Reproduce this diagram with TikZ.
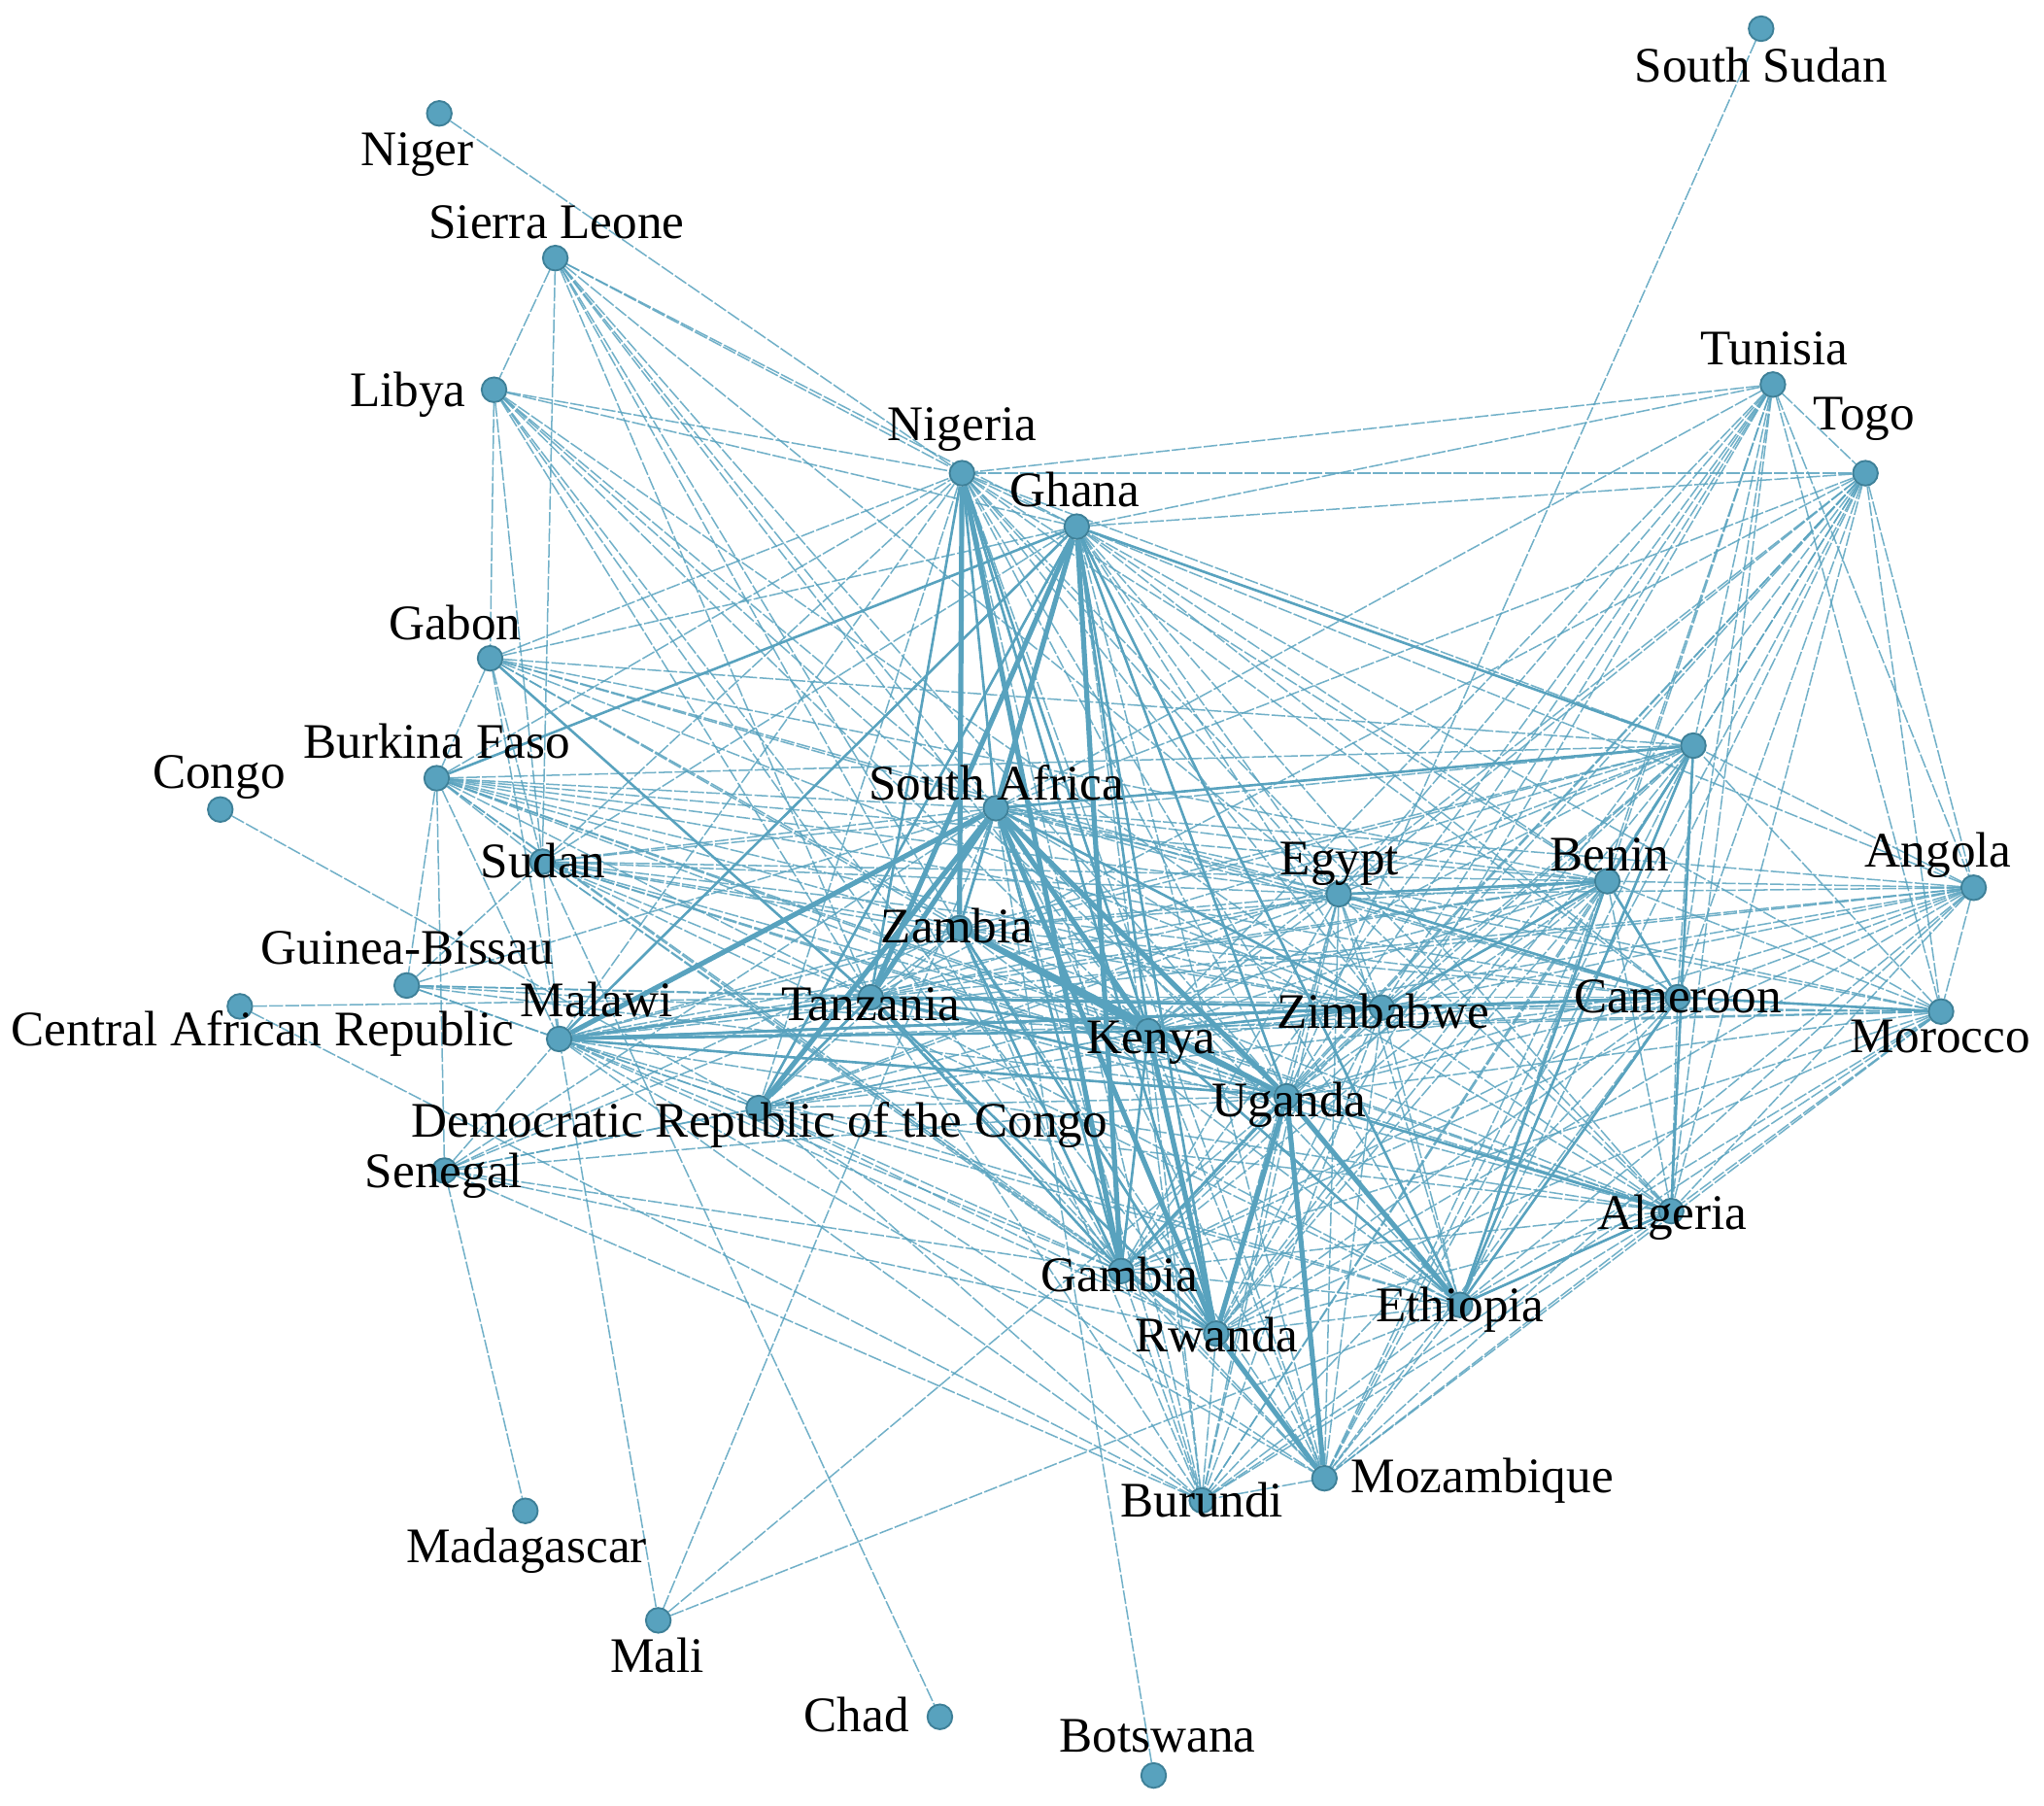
\documentclass[tikz,border=0pt]{standalone}
\usepackage{fontspec}
\setmainfont{Liberation Serif}
\pgfdeclarelayer{bg}
\pgfsetlayers{bg,main}
\definecolor{edgec}{RGB}{88,162,190}
\definecolor{nodef}{RGB}{88,162,190}
\definecolor{noded}{RGB}{62,128,152}
\tikzset{
 dot/.style={circle, fill=nodef, draw=noded, line width=0.4pt, inner sep=0pt, minimum size=0.19cm},
 lab/.style={font=\fontsize{10.85}{13}\selectfont, inner sep=0pt, text=black},
 ethin/.style={draw=edgec, line width=0.32pt, opacity=0.85, dash pattern=on 3pt off 0.5pt},
 emed/.style={draw=edgec, line width=0.55pt},
 ethick/.style={draw=edgec, line width=1.1pt},
}
\begin{document}
\begin{tikzpicture}[x=0.01cm, y=-0.01cm]
\useasboundingbox (0,0) rectangle (1568,1385);
% nodes
\node[dot] (SS) at (1351,22) {};
\node[dot] (NE) at (337,87) {};
\node[dot] (SL) at (426,198) {};
\node[dot] (LY) at (379,299) {};
\node[dot] (NG) at (738,363) {};
\node[dot] (GH) at (826,404) {};
\node[dot] (TN) at (1360,295) {};
\node[dot] (TG) at (1431,363) {};
\node[dot] (GA) at (376,505) {};
\node[dot] (BF) at (335,597) {};
\node[dot] (CG) at (169,621) {};
\node[dot] (UN) at (1299,572) {};
\node[dot] (ZA) at (764,620) {};
\node[dot] (SD) at (416,661) {};
\node[dot] (EG) at (1027,686) {};
\node[dot] (BJ) at (1233,676) {};
\node[dot] (AO) at (1514,681) {};
\node[dot] (GW) at (312,756) {};
\node[dot] (ZM) at (736,712) {};
\node[dot] (CF) at (184,772) {};
\node[dot] (MW) at (429,797) {};
\node[dot] (TZ) at (668,765) {};
\node[dot] (KE) at (881,791) {};
\node[dot] (ZW) at (1060,773) {};
\node[dot] (CM) at (1287,765) {};
\node[dot] (MA) at (1489,776) {};
\node[dot] (UG) at (987,841) {};
\node[dot] (CD) at (582,850) {};
\node[dot] (SN) at (341,898) {};
\node[dot] (DZ) at (1282,929) {};
\node[dot] (GM) at (860,975) {};
\node[dot] (ET) at (1120,1001) {};
\node[dot] (RW) at (933,1023) {};
\node[dot] (BI) at (922,1151) {};
\node[dot] (MZ) at (1016,1134) {};
\node[dot] (MG) at (403,1159) {};
\node[dot] (ML) at (505,1243) {};
\node[dot] (TD) at (721,1317) {};
\node[dot] (BW) at (885,1362) {};
% edges
\begin{pgfonlayer}{bg}
\def\core{NG,GH,ZA,ZM,TZ,KE,ZW,UG,EG,BJ,CM,DZ,ET,GM,RW,MW,CD,UN,MZ,BI}
\foreach \a [count=\i] in \core {
  \foreach \b [count=\j] in \core {
    \ifnum\j>\i \draw[ethin] (\a) -- (\b); \fi
  }
}
\foreach \a/\b in {SS/UG, NE/NG,
 SL/LY, SL/NG, SL/GH, SL/SD, SL/ZA, SL/ZM, SL/TZ, SL/KE, SL/UG, SL/GM, SL/EG,
 LY/NG, LY/GH, LY/SD, LY/GA, LY/ZA, LY/TZ, LY/KE, LY/UG, LY/GM, LY/ZW, LY/RW,
 GA/NG, GA/GH, GA/BF, GA/SD, GA/ZM, GA/EG, GA/BJ, GA/UN, GA/KE, GA/CM, GA/ZW, GA/MW,
 BF/NG, BF/ZA, BF/SD, BF/GW, BF/SN, BF/MW, BF/EG, BF/BJ, BF/CM, BF/ZM, BF/TZ, BF/KE, BF/UG, BF/ZW, BF/UN, BF/GM, BF/DZ, BF/RW,
 CG/CD,
 SD/GW, SD/MW, SD/ZA, SD/ZM, SD/TZ, SD/KE, SD/UG, SD/ZW, SD/EG, SD/BJ, SD/CM, SD/ET, SD/DZ, SD/GM, SD/RW, SD/TD, SD/NG, SD/GH, SD/UN,
 GW/MW, GW/ZA, GW/TZ, GW/KE, GW/UG, GW/CD, GW/ZW,
 CF/TZ, CF/BI,
 SN/MG, SN/RW, SN/BI, SN/MW, SN/CD, SN/TZ, SN/KE, SN/UG, SN/ZM, SN/ZA, SN/GM,
 ML/MW, ML/ZA, ML/UG, ML/ET, BW/ZA,
 TN/NG, TN/GH, TN/TG, TN/ZA, TN/UN, TN/EG, TN/BJ, TN/CM, TN/ZW, TN/KE, TN/UG, TN/DZ, TN/ET, TN/AO, TN/MA, TN/RW, TN/GM,
 TG/NG, TG/GH, TG/ZA, TG/UN, TG/EG, TG/BJ, TG/CM, TG/ZW, TG/KE, TG/UG, TG/DZ, TG/ET, TG/AO, TG/MA, TG/GM, TG/RW, TG/MZ, TG/TZ,
 AO/UN, AO/BJ, AO/CM, AO/MA, AO/DZ, AO/EG, AO/ZW, AO/KE, AO/UG, AO/ET, AO/ZA, AO/TZ, AO/MW, AO/GH, AO/RW, AO/GM, AO/MZ,
 MA/UN, MA/BJ, MA/CM, MA/DZ, MA/EG, MA/ZW, MA/KE, MA/UG, MA/ET, MA/ZA, MA/TZ, MA/MW, MA/GH, MA/RW, MA/GM, MA/MZ, MA/BI}
 \draw[ethin] (\a) -- (\b);
\foreach \a/\b in {GH/MW, GH/BF, GH/UN, ZA/UN, NG/TZ, NG/KE, NG/RW, NG/ZA, GH/KE, GH/UG, GH/RW, GH/ET,
 ZA/ZM, ZA/GM, ZA/ZW, MW/TZ, MW/KE, MW/ZW, MW/UG, MW/CM, GA/TZ, CD/GH, CD/TZ, TZ/KE, TZ/ZW, TZ/UG,
 KE/ZW, KE/UG, KE/GM, KE/ET, ZW/CM, ZW/BJ, EG/BJ, EG/CM, BJ/CM, BJ/UN, CM/MA, ET/DZ, ET/BJ, ET/CM,
 ET/UN, GM/RW, GM/UG, DZ/UN, UG/DZ, ZM/RW, ZM/GM, TZ/RW, TZ/GM}
 \draw[emed] (\a) -- (\b);
\foreach \a/\b in {GH/ZA, GH/TZ, ZM/UG, ZA/UG, ZA/KE, ZA/MW, ZA/TZ, NG/ZM, NG/GM, GH/GM, ZA/CD, ZA/RW,
 KE/RW, UG/RW, UG/ET, UG/MZ, RW/MZ, ZM/KE}
 \draw[ethick] (\a) -- (\b);
\end{pgfonlayer}
% labels
\node[lab, anchor=base] (lSS) at (1351,63) {South Sudan};
\node[lab, anchor=base] (lNE) at (320,127) {Niger};
\node[lab, anchor=base] (lSL) at (427,183) {Sierra Leone};
\node[lab, anchor=base east] (lLY) at (358,312) {Libya};
\node[lab, anchor=base] (lNG) at (738,338) {Nigeria};
\node[lab, anchor=base] (lGH) at (824.5,389) {Ghana};
\node[lab, anchor=base] (lTN) at (1361,279.5) {Tunisia};
\node[lab, anchor=base] (lTG) at (1430,330) {Togo};
\node[lab, anchor=base] (lGA) at (349,491) {Gabon};
\node[lab, anchor=base] (lBF) at (335,582) {Burkina Faso};
\node[lab, anchor=base] (lCG) at (168,605) {Congo};
\node[lab, anchor=base] (lZA) at (764.5,613.6) {South Africa};
\node[lab, anchor=base] (lSD) at (416.4,673) {Sudan};
\node[lab, anchor=base] (lEG) at (1027.7,671) {Egypt};
\node[lab, anchor=base] (lBJ) at (1234.7,668) {Benin};
\node[lab, anchor=base] (lAO) at (1487,665) {Angola};
\node[lab, anchor=base] (lGW) at (312.6,740) {Guinea-Bissau};
\node[lab, anchor=base] (lZM) at (734,723.4) {Zambia};
\node[lab, anchor=base east] (lCF) at (395,802) {Central African Republic};
\node[lab, anchor=base] (lMW) at (457.6,780) {Malawi};
\node[lab, anchor=base] (lTZ) at (667.8,783) {Tanzania};
\node[lab, anchor=base] (lKE) at (883,808) {Kenya};
\node[lab, anchor=base] (lZW) at (1061,789) {Zimbabwe};
\node[lab, anchor=base] (lCM) at (1287,777) {Cameroon};
\node[lab, anchor=base] (lMA) at (1488.5,807.6) {Morocco};
\node[lab, anchor=base] (lUG) at (989,857) {Uganda};
\node[lab, anchor=base] (lCD) at (582.5,872.5) {Democratic Republic of the Congo};
\node[lab, anchor=base] (lSN) at (340.6,911) {Senegal};
\node[lab, anchor=base] (lDZ) at (1283,943) {Algeria};
\node[lab, anchor=base] (lGM) at (859,990.7) {Gambia};
\node[lab, anchor=base] (lET) at (1120,1013.6) {Ethiopia};
\node[lab, anchor=base] (lRW) at (933.5,1037) {Rwanda};
\node[lab, anchor=base] (lBI) at (922,1164) {Burundi};
\node[lab, anchor=base] (lMZ) at (1137,1145) {Mozambique};
\node[lab, anchor=base] (lMG) at (404,1199) {Madagascar};
\node[lab, anchor=base] (lML) at (504.3,1283) {Mali};
\node[lab, anchor=base] (lTD) at (657,1328.7) {Chad};
\node[lab, anchor=base west] (lBW) at (812,1344) {Botswana};
\end{tikzpicture}
\end{document}
